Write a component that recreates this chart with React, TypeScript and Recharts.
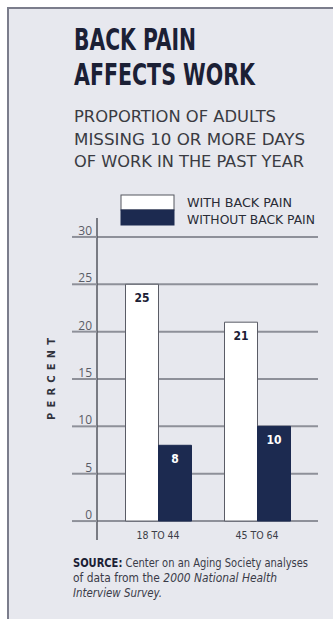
import React from 'react';
import { BarChart, Bar, XAxis, YAxis, CartesianGrid, Legend, LabelList } from 'recharts';

const ageGroups = ['18 TO 44', '45 TO 64'];
const withBackPain = [25, 21];
const withoutBackPain = [8, 10];
const yTicks = [0, 5, 10, 15, 20, 25, 30];
const seriesNames = ['WITH BACK PAIN', 'WITHOUT BACK PAIN'];

const data = ageGroups.map((group, i) => ({
    group,
    withPain: withBackPain[i],
    withoutPain: withoutBackPain[i],
}));

const NAVY = '#1c2a50';
const GRID = '#8e9099';
const BG = '#e7e8ee';
const COND = "'DejaVu Sans Condensed', 'Liberation Sans Narrow', 'DejaVu Sans', sans-serif";

const W = 333;
const H = 619;
const MARGIN = { top: 218, right: 15, bottom: 59, left: 72 };
const Y_AXIS_W = 25;

const YTick = (props: any) => {
    const { y, payload } = props;
    const left = MARGIN.left;
    const axisX = MARGIN.left + Y_AXIS_W;
    return (
        <g>
            <line x1={left} x2={axisX} y1={y} y2={y} stroke={GRID} strokeWidth={2} />
            <text x={axisX - 5} y={y - 2} textAnchor="end" fontSize={12} fill="#5a5c66" fontFamily="'Open Sans', sans-serif">
                {payload.value}
            </text>
        </g>
    );
};

const XTick = (props: any) => {
    const { x, y, payload } = props;
    return (
        <text x={x} y={y - 9} textAnchor="middle" fontSize={10.5} fill="#3c3e48" fontFamily={COND}>
            {payload.value}
        </text>
    );
};

const LegendBox = (props: any) => {
    const { payload } = props;
    return (
        <svg width={200} height={32} style={{ display: 'block' }}>
            {(payload || []).map((entry: any, i: number) => (
                <g key={entry.value}>
                    <rect
                        x={1}
                        y={1 + i * 15}
                        width={53}
                        height={15}
                        fill={i === 0 ? '#ffffff' : NAVY}
                        stroke={i === 0 ? '#55575f' : NAVY}
                        strokeWidth={1}
                    />
                    <text
                        x={67}
                        y={13 + i * 17}
                        fontSize={13}
                        fill="#2a2c36"
                        fontFamily={COND}
                        textLength={i === 0 ? 105 : 128}
                        lengthAdjust="spacingAndGlyphs"
                    >
                        {entry.value}
                    </text>
                </g>
            ))}
        </svg>
    );
};

export default function App() {
    return (
        <div style={{ position: 'absolute', top: 0, left: 0, width: W, height: H, background: '#ffffff', overflow: 'hidden' }}>
            {/* panel */}
            <div
                style={{
                    position: 'absolute',
                    left: 7,
                    top: 7,
                    width: W - 7,
                    height: H - 7,
                    background: BG,
                    borderLeft: '2px solid #7b7d8c',
                    borderTop: '2px solid #7b7d8c',
                    boxSizing: 'border-box',
                }}
            />

            <div style={{ position: 'absolute', left: 0, top: 0 }}>
                <BarChart width={W} height={H} data={data} margin={MARGIN} barGap={0} barSize={33}>
                    <CartesianGrid vertical={false} horizontalValues={yTicks} stroke={GRID} strokeWidth={2} />
                    <XAxis
                        dataKey="group"
                        axisLine={false}
                        tickLine={false}
                        height={20}
                        padding={{ left: 11.5, right: 11.5 }}
                        tick={<XTick />}
                    />
                    <YAxis
                        width={Y_AXIS_W}
                        domain={[-2, 32]}
                        ticks={yTicks}
                        tickLine={false}
                        axisLine={{ stroke: '#55575f', strokeWidth: 1.5 }}
                        tick={<YTick />}
                        interval={0}
                    />
                    <Legend
                        layout="horizontal"
                        verticalAlign="middle"
                        align="center"
                        wrapperStyle={{ position: 'absolute', top: 194, left: 120, width: 200 }}
                        content={<LegendBox />}
                    />
                    <Bar dataKey="withPain" name={seriesNames[0]} fill="#ffffff" stroke="#5a5c66" strokeWidth={1} isAnimationActive={false}>
                        <LabelList dataKey="withPain" position="insideTop" offset={9} fill="#1b2035" fontSize={12} fontWeight="bold" fontFamily={COND} />
                    </Bar>
                    <Bar dataKey="withoutPain" name={seriesNames[1]} fill={NAVY} stroke={NAVY} isAnimationActive={false}>
                        <LabelList dataKey="withoutPain" position="insideTop" offset={9} fill="#ffffff" fontSize={12} fontWeight="bold" fontFamily={COND} />
                    </Bar>
                </BarChart>
            </div>

            {/* titles, axis label, source */}
            <svg width={W} height={H} style={{ position: 'absolute', left: 0, top: 0, pointerEvents: 'none' }}>
                <g fontFamily={COND} fontWeight="bold" fontSize={30} fill="#1b2035">
                    <text x={74} y={50} textLength={122} lengthAdjust="spacingAndGlyphs">BACK PAIN</text>
                    <text x={74} y={85} textLength={181} lengthAdjust="spacingAndGlyphs">AFFECTS WORK</text>
                </g>
                <g fontFamily={COND} fontSize={16.5} fill="#3a3b42">
                    <text x={74} y={122} textLength={202} lengthAdjust="spacingAndGlyphs">PROPORTION OF ADULTS</text>
                    <text x={74} y={144.5} textLength={231} lengthAdjust="spacingAndGlyphs">MISSING 10 OR MORE DAYS</text>
                    <text x={74} y={167} textLength={230} lengthAdjust="spacingAndGlyphs">OF WORK IN THE PAST YEAR</text>
                </g>
                <text
                    transform="translate(55, 379) rotate(-90)"
                    textAnchor="middle"
                    fontFamily={COND}
                    fontWeight="bold"
                    fontSize={11}
                    fill="#30323c"
                    textLength={82}
                    lengthAdjust="spacing"
                >
                    PERCENT
                </text>
                <g fontFamily={COND} fontSize={11.5} fill="#3a3b48">
                    <text x={73} y={567} textLength={235} lengthAdjust="spacingAndGlyphs">
                        <tspan fontWeight="bold" fill="#1b2035">SOURCE:</tspan> Center on an Aging Society analyses
                    </text>
                    <text x={73} y={582} textLength={204} lengthAdjust="spacingAndGlyphs">
                        of data from the <tspan fontStyle="italic">2000 National Health</tspan>
                    </text>
                    <text x={73} y={597} textLength={89} lengthAdjust="spacingAndGlyphs" fontStyle="italic">
                        Interview Survey.
                    </text>
                </g>
            </svg>
        </div>
    );
}
